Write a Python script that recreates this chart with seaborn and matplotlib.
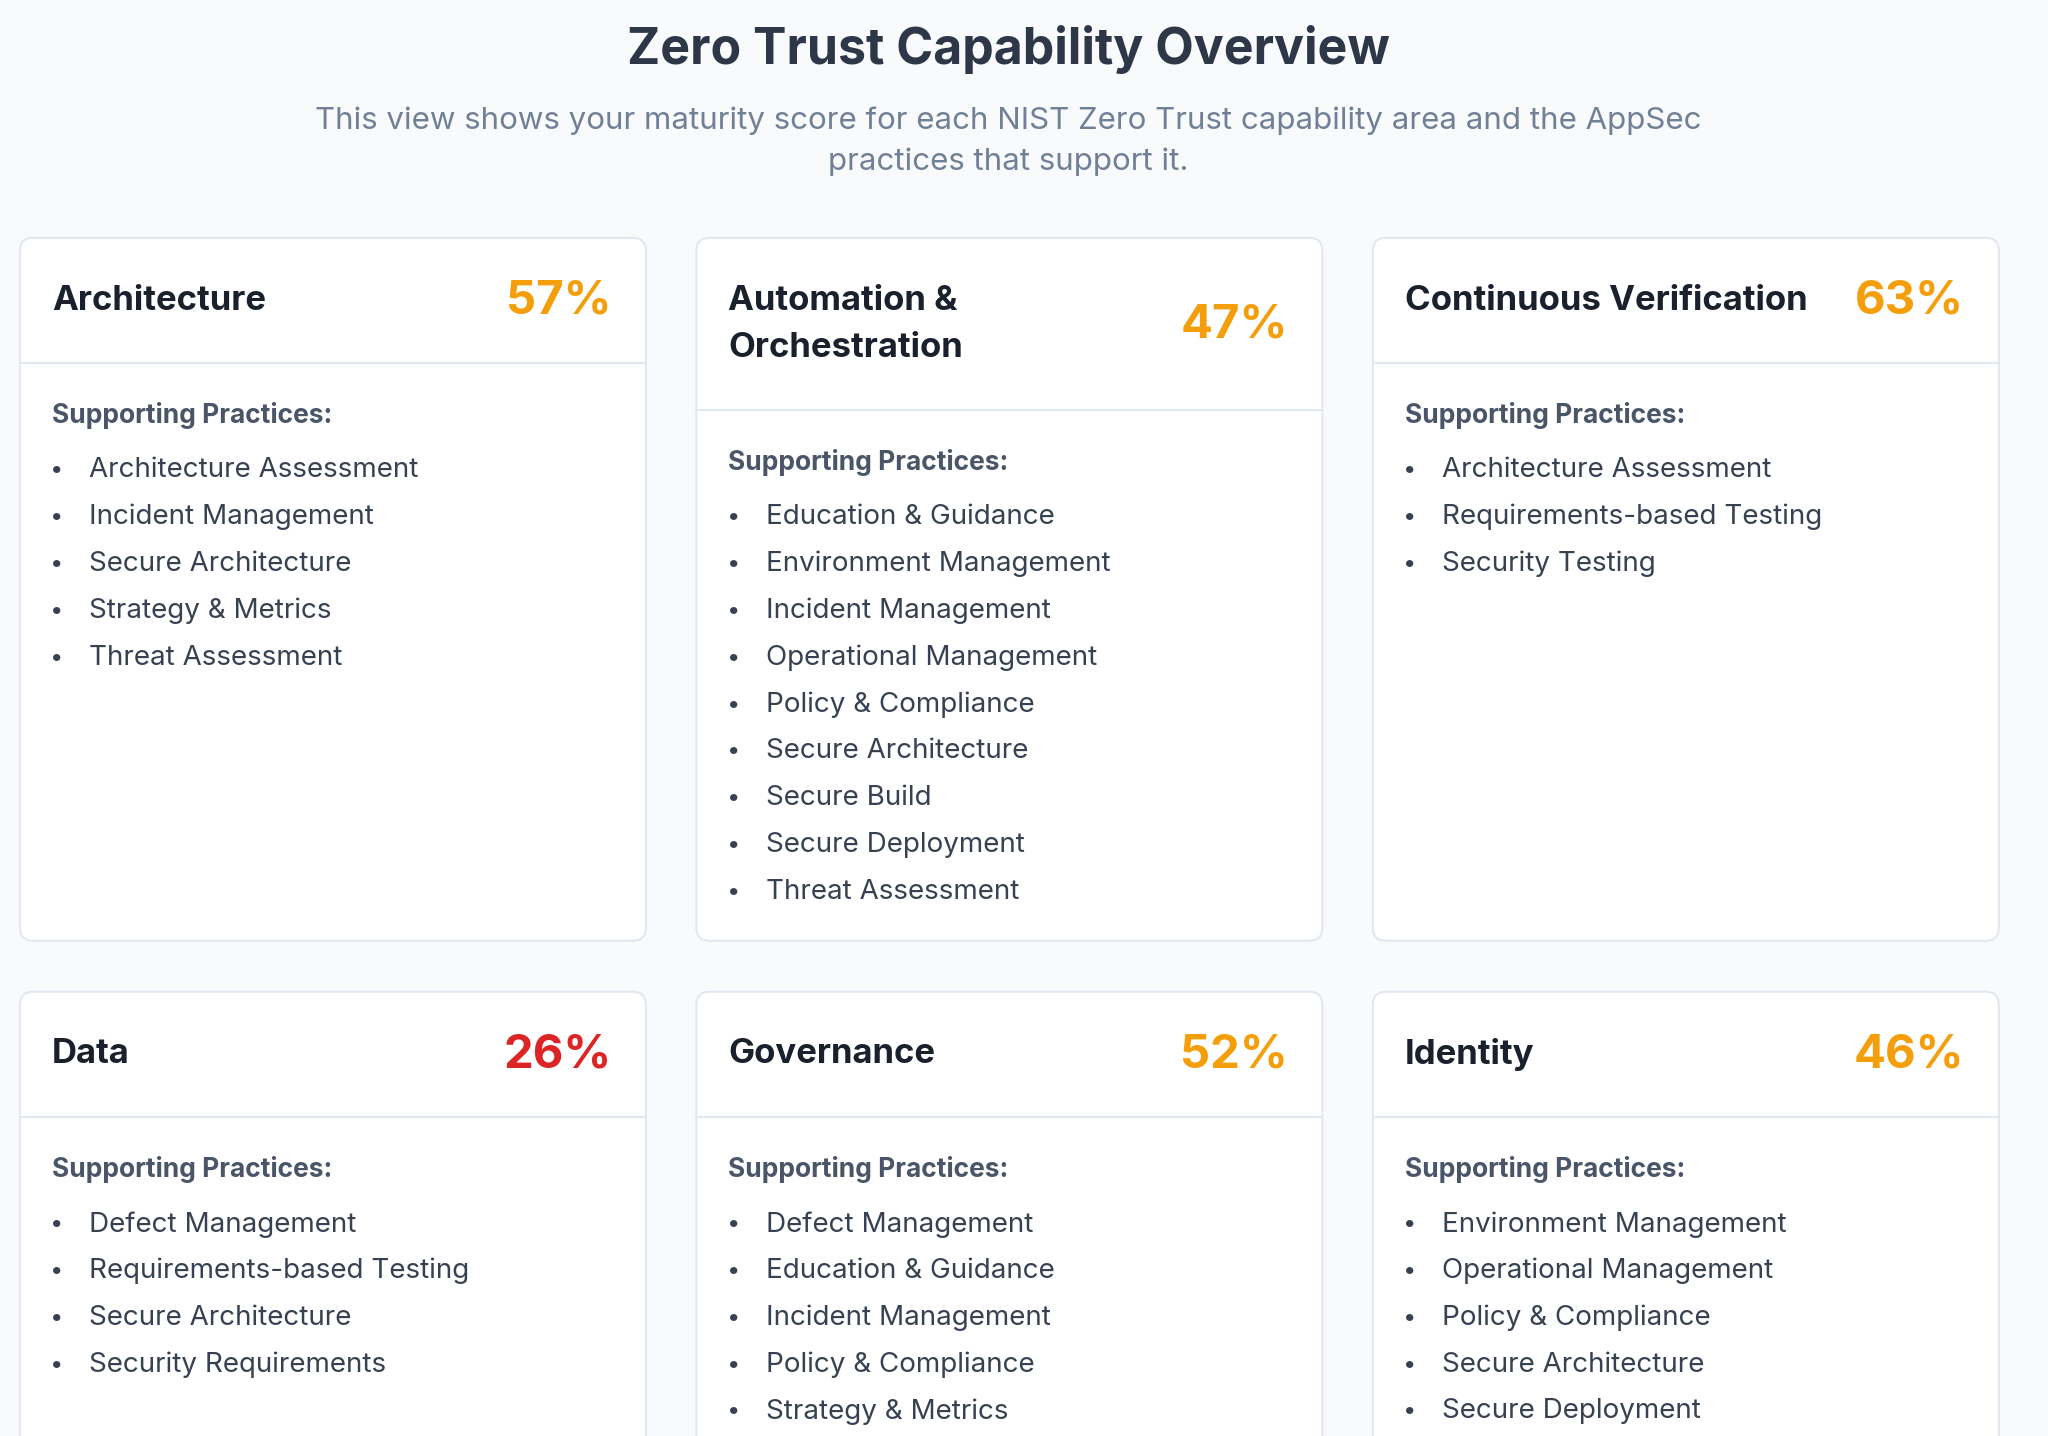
import matplotlib
matplotlib.use("Agg")
import matplotlib.pyplot as plt
import seaborn as sns
from matplotlib.patches import FancyBboxPatch

sns.set_theme(style="white")
plt.rcParams['font.family'] = ['Inter', 'DejaVu Sans']

capabilities = ["Architecture", "Automation &\nOrchestration", "Continuous Verification",
                "Data", "Governance", "Identity"]
scores = [57, 47, 63, 26, 52, 46]
practices = [
    ["Architecture Assessment", "Incident Management", "Secure Architecture",
     "Strategy & Metrics", "Threat Assessment"],
    ["Education & Guidance", "Environment Management", "Incident Management",
     "Operational Management", "Policy & Compliance", "Secure Architecture",
     "Secure Build", "Secure Deployment", "Threat Assessment"],
    ["Architecture Assessment", "Requirements-based Testing", "Security Testing"],
    ["Defect Management", "Requirements-based Testing", "Secure Architecture",
     "Security Requirements"],
    ["Defect Management", "Education & Guidance", "Incident Management",
     "Policy & Compliance", "Strategy & Metrics"],
    ["Environment Management", "Operational Management", "Policy & Compliance",
     "Secure Architecture", "Secure Deployment"],
]
title = "Zero Trust Capability Overview"
subtitle = ("This view shows your maturity score for each NIST Zero Trust capability area and the AppSec\n"
            "practices that support it.")

BG = "#f8fafc"
fig = plt.figure(figsize=(20.48, 14.36), dpi=100, facecolor=BG)
ax = fig.add_axes([0, 0, 1, 1])
ax.set_facecolor(BG)
ax.set_xlim(0, 1541)
ax.set_ylim(1099, 0)
ax.axis("off")

ax.text(759, 38, title, ha="center", va="center", fontsize=36, fontweight="bold", color="#2d3748")
ax.text(759, 108, subtitle, ha="center", va="center", fontsize=22.5, color="#718096",
        linespacing=1.55)

col_x = [15, 524, 1033]
row_y = [182, 759]
W = 471
H = 538

def color_for(s):
    return "#dc2626" if s < 40 else "#f59e0b"

for i, (cap, sc, pr) in enumerate(zip(capabilities, scores, practices)):
    x0 = col_x[i % 3]
    y0 = row_y[i // 3]
    card = FancyBboxPatch((x0, y0), W, H, boxstyle="round,pad=0,rounding_size=10",
                          facecolor="white", edgecolor="#e2e8f0", linewidth=1.5, zorder=1)
    ax.add_patch(card)
    two_line = "\n" in cap
    hh = 132 if two_line else 96
    ax.plot([x0, x0 + W], [y0 + hh, y0 + hh], color="#e2e8f0", lw=1.5, zorder=2)
    ax.text(x0 + 24, y0 + hh / 2, cap, ha="left", va="center", fontsize=25,
            fontweight="bold", color="#1a202c", linespacing=1.6, zorder=3)
    ax.text(x0 + W - 26, y0 + hh / 2 + 1, f"{sc}%", ha="right", va="center", fontsize=34,
            fontweight="bold", color=color_for(sc), zorder=3)
    ys = y0 + hh + 40
    ax.text(x0 + 24, ys, "Supporting Practices:", ha="left", va="center", fontsize=19,
            fontweight="bold", color="#4a5568", zorder=3)
    for j, p in enumerate(pr):
        yy = ys + 42 + j * 35.8
        ax.text(x0 + 28, yy, "•", ha="center", va="center", fontsize=17, color="#374151", zorder=3)
        ax.text(x0 + 52, yy, p, ha="left", va="center", fontsize=20, color="#374151", zorder=3)

fig.savefig("out.png", dpi=100, facecolor=BG)
